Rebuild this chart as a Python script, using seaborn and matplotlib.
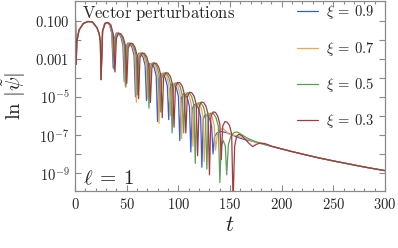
import numpy as np
import seaborn as sns
import matplotlib.pyplot as plt
from matplotlib.ticker import FixedLocator, FixedFormatter, MultipleLocator, NullLocator

# values, y given as log10 |psi|
# shared start (all four curves lie on top of each other here)
t_start = [0.0, 0.5, 1.1, 1.8, 3.9, 8.0, 12.5, 17.0, 21.3, 23.5, 24.6, 25.2]
lg_start = [0.5, -1.2, -3.3, -2.1, -1.5, -1.16, -1.05, -1.08, -1.38, -1.71, -2.15, -4.1]

# shared late-time tail
t_tail = [190, 200, 210, 220, 235, 250, 265, 280, 300]
lg_tail = [-7.60, -7.74, -7.88, -8.01, -8.20, -8.37, -8.53, -8.69, -8.88]

# xi = 0.9 (one row per lobe: dip first, then the arch)
t_blue = [26.6, 28.7, 31.1, 33.5, 35.6,
          37.0, 38.3, 40.2, 42.4, 44.5, 46.4,
          47.7, 49.0, 51.0, 53.1, 55.2, 57.2,
          58.5, 59.8, 61.7, 63.8, 66.0, 67.9,
          69.2, 70.5, 72.4, 74.6, 76.7, 78.6,
          79.9, 81.2, 83.1, 85.3, 87.4, 89.4,
          90.7, 91.9, 93.9, 96.0, 98.2, 100.1,
          101.4, 102.7, 104.6, 106.8, 108.9, 110.8,
          112.1, 113.4, 115.3, 117.5, 119.6, 121.6,
          122.8, 124.1, 126.1, 128.2, 130.4, 132.3,
          133.6, 135.0, 137.5, 141.0, 146.0, 150.0, 155.0, 161.0, 166.0, 172.0, 178.0, 184.0]
lg_blue = [-1.55, -1.15, -1.1, -1.22, -1.7,
           -3.5, -1.89, -1.65, -1.67, -1.87, -2.30,
           -4.2, -2.43, -2.19, -2.21, -2.41, -2.84,
           -5.0, -2.96, -2.72, -2.74, -2.94, -3.37,
           -5.2, -3.50, -3.26, -3.28, -3.48, -3.91,
           -6.3, -4.04, -3.80, -3.82, -4.02, -4.45,
           -6.2, -4.57, -4.33, -4.35, -4.55, -4.98,
           -7.3, -5.11, -4.87, -4.89, -5.09, -5.52,
           -7.9, -5.65, -5.41, -5.43, -5.63, -6.06,
           -8.7, -6.18, -5.94, -5.96, -6.16, -6.59,
           -8.0, -7.1, -6.9, -6.82, -6.88, -6.95, -7.08, -7.2, -7.27, -7.34, -7.43, -7.52]

# xi = 0.7
t_orange = [26.7, 28.9, 31.4, 33.8, 36.0,
            37.5, 38.8, 40.8, 43.0, 45.2, 47.1,
            48.45, 49.8, 51.7, 53.9, 56.1, 58.1,
            59.4, 60.7, 62.7, 64.9, 67.1, 69.0,
            70.35, 71.7, 73.6, 75.8, 78.0, 80.0,
            81.3, 82.6, 84.6, 86.8, 89.0, 90.9,
            92.25, 93.6, 95.5, 97.7, 99.9, 101.9,
            103.2, 104.5, 106.5, 108.7, 110.9, 112.8,
            114.15, 115.5, 117.4, 119.6, 121.8, 123.8,
            125.1, 126.4, 128.4, 130.6, 132.8, 134.7,
            136.05, 137.7, 140.0, 143.0, 146.0, 148.5, 152.0, 157.0, 163.0, 170.0, 177.0, 184.0]
lg_orange = [-1.55, -1.15, -1.1, -1.22, -1.72,
             -3.3, -1.90, -1.66, -1.67, -1.87, -2.30,
             -4.4, -2.43, -2.19, -2.20, -2.40, -2.83,
             -5.3, -2.95, -2.71, -2.72, -2.92, -3.35,
             -5.1, -3.48, -3.24, -3.25, -3.45, -3.88,
             -6.4, -4.00, -3.76, -3.77, -3.97, -4.40,
             -6.0, -4.53, -4.29, -4.30, -4.50, -4.93,
             -7.2, -5.05, -4.81, -4.82, -5.02, -5.45,
             -7.6, -5.58, -5.34, -5.35, -5.55, -5.98,
             -8.4, -6.11, -5.87, -5.88, -6.08, -6.51,
             -7.8, -7.0, -6.75, -6.65, -6.8, -6.95, -7.0, -7.06, -7.17, -7.3, -7.42, -7.5]

# xi = 0.5
t_green = [26.7, 29.0, 31.6, 34.2, 36.5,
           38.0, 39.3, 41.4, 43.6, 45.8, 47.9,
           49.2, 50.5, 52.6, 54.8, 57.0, 59.1,
           60.4, 61.7, 63.8, 66.0, 68.2, 70.3,
           71.6, 72.9, 75.0, 77.2, 79.4, 81.5,
           82.8, 84.1, 86.2, 88.4, 90.6, 92.7,
           94.0, 95.3, 97.4, 99.6, 101.8, 103.9,
           105.2, 106.5, 108.6, 110.8, 113.0, 115.1,
           116.4, 117.7, 119.8, 122.0, 124.2, 126.3,
           127.6, 129.1, 131.4, 133.9, 136.4, 138.7,
           140.2, 141.5, 143.5, 145.5,
           146.8, 148.5, 151.0, 154.0, 157.0, 161.0, 166.0, 172.0, 178.0, 184.0]
lg_green = [-1.55, -1.15, -1.1, -1.22, -1.72,
            -3.6, -1.91, -1.67, -1.68, -1.87, -2.31,
            -4.5, -2.43, -2.19, -2.20, -2.39, -2.83,
            -4.9, -2.95, -2.71, -2.72, -2.91, -3.35,
            -5.6, -3.47, -3.23, -3.24, -3.43, -3.87,
            -5.8, -4.00, -3.76, -3.77, -3.96, -4.40,
            -6.9, -4.52, -4.28, -4.29, -4.48, -4.92,
            -6.9, -5.04, -4.80, -4.81, -5.00, -5.44,
            -8.5, -5.56, -5.32, -5.33, -5.52, -5.96,
            -8.8, -6.09, -5.86, -5.88, -6.09, -6.54,
            -9.5, -7.6, -7.3, -7.6,
            -9.1, -7.5, -7.05, -6.88, -6.85, -6.98, -7.15, -7.3, -7.41, -7.5]

# xi = 0.3
t_red = [26.8, 29.25, 31.95, 34.65, 37.1,
         38.7, 40.1, 42.1, 44.4, 46.7, 48.8,
         50.13, 51.5, 53.6, 55.9, 58.1, 60.2,
         61.56, 62.9, 65.0, 67.3, 69.6, 71.6,
         72.99, 74.4, 76.4, 78.7, 81.0, 83.1,
         84.42, 85.8, 87.9, 90.1, 92.4, 94.5,
         95.85, 97.2, 99.3, 101.6, 103.9, 105.9,
         107.28, 108.7, 110.7, 113.0, 115.3, 117.3,
         118.71, 120.1, 122.1, 124.4, 126.7, 128.8,
         130.14, 131.5, 133.6, 135.9, 138.1, 140.2,
         141.57, 142.9, 145.0, 147.3, 149.6, 151.6,
         153.0, 154.5, 156.3, 158.5, 161.5, 165.0, 168.5, 172.0, 175.5, 179.0, 183.0, 187.0]
lg_red = [-1.55, -1.15, -1.1, -1.22, -1.72,
          -3.7, -1.93, -1.68, -1.70, -1.89, -2.32,
          -4.3, -2.45, -2.20, -2.22, -2.41, -2.84,
          -5.1, -2.96, -2.71, -2.73, -2.92, -3.35,
          -5.3, -3.48, -3.23, -3.25, -3.44, -3.87,
          -6.1, -3.99, -3.74, -3.76, -3.95, -4.38,
          -6.6, -4.50, -4.25, -4.27, -4.46, -4.89,
          -6.9, -5.02, -4.77, -4.79, -4.98, -5.41,
          -8.1, -5.53, -5.28, -5.30, -5.49, -5.92,
          -9.1, -6.05, -5.80, -5.82, -6.01, -6.44,
          -8.3, -6.56, -6.31, -6.33, -6.52, -6.95,
          -10.5, -7.6, -7.1, -6.97, -7.05, -7.25, -7.45, -7.62, -7.5, -7.44, -7.45, -7.52]

labels = [r'$\xi\:=\:0.9$', r'$\xi\:=\:0.7$', r'$\xi\:=\:0.5$', r'$\xi\:=\:0.3$']
colors = ['#2e5de8', '#f3a54a', '#5f9c5c', '#a23b3d']
series = [(t_blue, lg_blue), (t_orange, lg_orange), (t_green, lg_green), (t_red, lg_red)]

sns.set_style('ticks')
plt.rcParams['mathtext.fontset'] = 'cm'
plt.rcParams['font.family'] = ['DejaVu Serif']

fig, ax = plt.subplots(figsize=(3.98, 2.48), dpi=100)
fig.subplots_adjust(left=0.1884, right=0.9673, bottom=0.2298, top=0.994)

for (tt, lg), lab, col in zip(series, labels, colors):
    t_all = np.array(t_start + tt + t_tail)
    y_all = np.power(10.0, np.array(lg_start + lg + lg_tail))
    sns.lineplot(x=t_all, y=y_all, ax=ax, color=col, linewidth=0.9, label=lab,
                 sort=False, estimator=None)

ax.set_yscale('log')
ax.set_xlim(0, 300)
ax.set_ylim(10 ** -9.95, 1.0)

# y ticks at every decade, labels on every other one
decades = list(range(-9, 0))
ylabels = {-1: r'$0.100$', -3: r'$0.001$', -5: r'$10^{-5}$', -7: r'$10^{-7}$', -9: r'$10^{-9}$'}
ax.yaxis.set_major_locator(FixedLocator([10.0 ** k for k in decades]))
ax.yaxis.set_major_formatter(FixedFormatter([ylabels.get(k, '') for k in decades]))
ax.yaxis.set_minor_locator(NullLocator())
ax.xaxis.set_major_locator(MultipleLocator(50))
ax.xaxis.set_minor_locator(MultipleLocator(10))
ax.set_xticklabels([r'$%d$' % v for v in ax.get_xticks()])

ax.tick_params(which='both', direction='in', top=True, right=True, color='#8a8a8a',
               labelsize=10.5, width=0.8)
ax.tick_params(which='major', length=4, pad=4)
ax.tick_params(which='minor', length=2.3)
for sp in ax.spines.values():
    sp.set_color('#8a8a8a')
    sp.set_linewidth(0.9)

ax.set_xlabel(r'$t$', fontsize=16, labelpad=2)
ax.set_ylabel(r'$\ln\,|\tilde{\psi}|$', fontsize=15)
ax.yaxis.set_label_coords(-0.15, 0.5)

ax.text(0.023, 0.937, r'$\mathrm{Vector\ perturbations}$', transform=ax.transAxes,
        fontsize=12, va='center', ha='left')
ax.text(0.026, 0.064, r'$\ell\:=\:1$', transform=ax.transAxes, fontsize=15,
        va='center', ha='left')

ax.legend(frameon=False, loc='upper right', bbox_to_anchor=(0.968, 0.99), fontsize=10.5,
          handlelength=1.45, handletextpad=0.55, labelspacing=1.25, borderpad=0,
          borderaxespad=0)

plt.savefig('out.png', dpi=100)
